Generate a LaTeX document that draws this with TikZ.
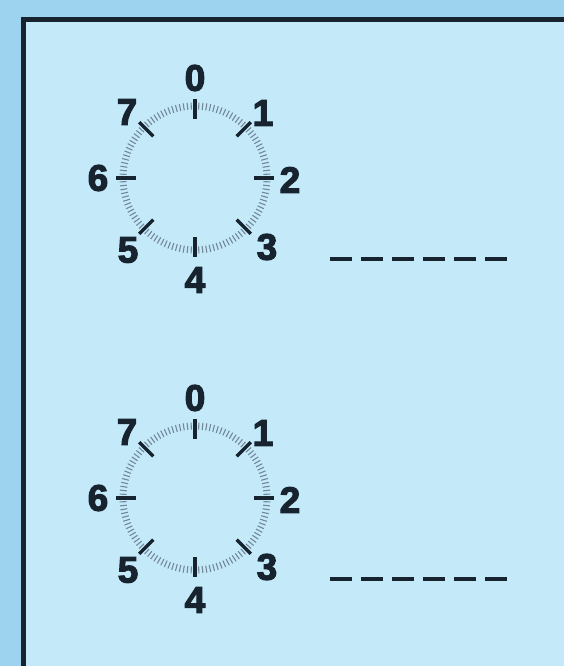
\documentclass[tikz,border=0pt]{standalone}
\usepackage{fontspec}
\setmainfont{Liberation Sans}
\newfontfamily\digitfont[FakeBold=3]{Liberation Sans Bold}
\definecolor{outerbg}{HTML}{9DD3EE}
\definecolor{innerbg}{HTML}{C4E9F9}
\definecolor{ink}{HTML}{17232E}
\definecolor{ring}{HTML}{72889A}
\begin{document}
\begin{tikzpicture}[x=1pt,y=-1pt,
  lbl/.style={font=\digitfont\fontsize{37}{37}\selectfont, text=ink, inner sep=0pt},
  major/.style={draw=ink, line width=3.5pt},
  minor/.style={draw=ring, line width=1.1pt},
  dashline/.style={draw=ink, line width=4pt, dash pattern=on 22pt off 9pt}]
\fill[outerbg] (0,0) rectangle (564,666);
\useasboundingbox (0,0) rectangle (564,666);
\fill[innerbg] (23.5,19.5) rectangle (580,690);
\draw[ink, line width=5pt] (23.5,690) -- (23.5,19.5) -- (580,19.5);
\foreach \cy/\p in {178/a, 498/b} {
  \foreach \t in {0,3,...,357}
    \draw[minor] ({195+68.5*sin(\t)},{\cy-68.5*cos(\t)}) -- ({195+75.5*sin(\t)},{\cy-75.5*cos(\t)});
  \foreach \k in {0,...,7}
    \draw[major] ({195+59*sin(45*\k)},{\cy-59*cos(45*\k)}) -- ({195+79*sin(45*\k)},{\cy-79*cos(45*\k)});
  \foreach \k/\dx/\dy in {0/0/-100, 1/68/-65, 2/95/2, 3/72/69, 4/0/102, 5/-67/72, 6/-97/0, 7/-68/-66}
    \node[lbl] (\p\k) at ({195+\dx},{\cy+\dy}) {\k};
  \coordinate (\p s) at (330,{\cy+81});
  \coordinate (\p e) at (507,{\cy+81});
  \draw[dashline] (\p s) -- (\p e);
}
\end{tikzpicture}
\end{document}
